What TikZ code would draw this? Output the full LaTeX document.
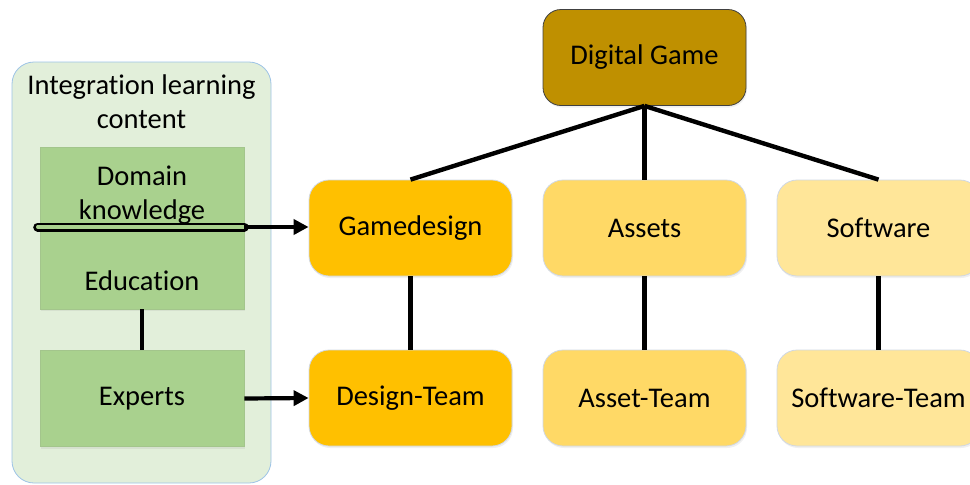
\documentclass[tikz,border=0pt]{standalone}
\usepackage{fontspec}
\setmainfont[Ligatures={NoCommon}]{Carlito}
\usetikzlibrary{arrows.meta,shadows}
\definecolor{dgcol}{HTML}{BF9000}
\definecolor{gdcol}{HTML}{FFC000}
\definecolor{ascol}{HTML}{FFD966}
\definecolor{swcol}{HTML}{FFE699}
\definecolor{grn}{HTML}{A9D18E}
\definecolor{lgrn}{HTML}{E2EFDA}
\definecolor{lblue}{HTML}{9DC3E6}
\definecolor{bord}{HTML}{D0D8E4}
\tikzset{
  box/.style={rectangle, rounded corners=20pt, minimum width=203pt, minimum height=96pt,
    draw=bord, line width=0.8pt, inner sep=0pt, align=center,
    drop shadow={opacity=0.12, shadow xshift=1pt, shadow yshift=-2pt}},
  gbox/.style={rectangle, fill=grn, draw=grn!85!gray, line width=0.6pt, inner sep=0pt,
    drop shadow={opacity=0.12, shadow xshift=1pt, shadow yshift=-2pt}},
  txt/.style={inner sep=0pt, align=center},
  conn/.style={line width=4.4pt},
  arr/.style={line width=4.2pt, -{Triangle[length=15pt,width=15pt]}},
}
\begin{document}
\begin{tikzpicture}[x=1pt,y=-1pt, font=\fontsize{28.5}{34}\selectfont]
\useasboundingbox (0,0) rectangle (970,485);
% container
\draw[fill=lgrn, draw=lblue, line width=0.8pt, rounded corners=22pt] (12,62) rectangle (271,483);
\node[txt] (title) at (141.5,102) {Integration learning\\content};
% green boxes
\node[gbox, minimum width=204pt, minimum height=162pt] (dk) at (142,228) {};
\node[txt] (dktxt) at (142,195) {Domain\\knowledge};
\node[txt] (edu) at (142,281) {Education};
\node[gbox, minimum width=204pt, minimum height=96pt] (ex) at (142,398.5) {Experts};
% orange boxes
\node[box, fill=dgcol, draw=black!75, rounded corners=18pt] (dg) at (644.5,57.5) {Digital Game};
\node[box, fill=gdcol] (gd) at (410.5,228) {Gamedesign};
\node[box, fill=ascol] (as) at (644.5,228) {Assets};
\node[box, fill=swcol] (sw) at (878.5,228) {Software};
\node[box, fill=gdcol] (dt) at (410.5,398) {Design-Team};
\node[box, fill=ascol] (at) at (644.5,398) {Asset-Team};
\node[box, fill=swcol] (st) at (878.5,398) {Software-Team};
% connectors
\draw[conn] (dg.south) -- (gd.north);
\draw[conn] (dg.south) -- (as.north);
\draw[conn] (dg.south) -- (sw.north);
\draw[conn] (gd.south) -- (dt.north);
\draw[conn] (as.south) -- (at.north);
\draw[conn] (sw.south) -- (st.north);
\draw[conn] (dk.south) -- (ex.north);
% double bar and arrows
\coordinate (barl) at ([xshift=-2pt,yshift=1pt]dk.west);
\coordinate (barr) at ([xshift=0pt,yshift=1pt]dk.east);
\draw[line width=2.8pt, double=grn, double distance=3.4pt, line cap=round] (barl) -- (barr);
\draw[arr] (barr) -- ([yshift=1pt]gd.west);
\draw[arr] (ex.east) -- (dt.west);
\end{tikzpicture}
\end{document}
